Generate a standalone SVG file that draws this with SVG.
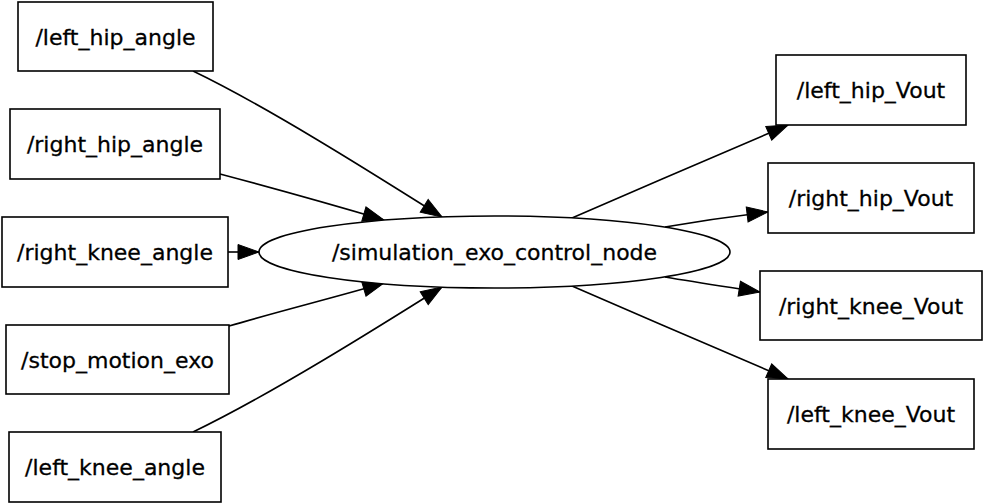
<svg xmlns="http://www.w3.org/2000/svg" width="983" height="504" viewBox="0 0 983 504">
<style>
.n rect, .n ellipse { fill: #fff; stroke: #000; stroke-width: 1.6; }
.n text { font-family: "DejaVu Sans", sans-serif; font-size: 22px; text-anchor: middle; fill: #000; stroke: #000; stroke-width: 0.3; }
#edges path { fill: none; stroke: #000; stroke-width: 1.6; marker-end: url(#ah); }
</style>
<defs>
<marker id="ah" markerUnits="userSpaceOnUse" markerWidth="24" markerHeight="18" refX="21" refY="7.5" orient="auto" overflow="visible">
<path d="M0,0 L21,7.5 L0,15 z" fill="#000" stroke="#000" stroke-width="1"/>
</marker>
</defs>
<rect width="983" height="504" fill="#fff"/>
<g id="edges">
<path d="M193,71 C270,108 380,178 442,217"/>
<path d="M220,174 C280,190 340,207 384,220"/>
<path d="M228,252 L259,252"/>
<path d="M229,326 C280,311 340,296 384,283"/>
<path d="M193,432 C270,395 380,326 442,287"/>
<path d="M572,218 C640,188 730,150 788,125"/>
<path d="M665,227 C700,221 735,216 768,212"/>
<path d="M665,277 C700,283 735,288 760,292"/>
<path d="M572,286 C640,316 730,354 788,379"/>
</g>
<g id="left_hip_angle" class="n"><rect x="18" y="2" width="195" height="69"/><text x="115.5" y="44.5">/left_hip_angle</text></g>
<g id="right_hip_angle" class="n"><rect x="10" y="109" width="210" height="70"/><text x="115" y="152">/right_hip_angle</text></g>
<g id="right_knee_angle" class="n"><rect x="2" y="217" width="226" height="70"/><text x="115" y="260">/right_knee_angle</text></g>
<g id="stop_motion_exo" class="n"><rect x="6" y="325" width="223" height="69"/><text x="117.5" y="368">/stop_motion_exo</text></g>
<g id="left_knee_angle" class="n"><rect x="9" y="432" width="212" height="70"/><text x="115" y="475">/left_knee_angle</text></g>
<g id="simulation_exo_control_node" class="n"><ellipse cx="494.5" cy="252" rx="235.5" ry="36"/><text x="494.5" y="260">/simulation_exo_control_node</text></g>
<g id="left_hip_Vout" class="n"><rect x="776" y="55" width="190" height="70"/><text x="871" y="98">/left_hip_Vout</text></g>
<g id="right_hip_Vout" class="n"><rect x="768" y="163" width="206" height="70"/><text x="871" y="206">/right_hip_Vout</text></g>
<g id="right_knee_Vout" class="n"><rect x="760" y="271" width="222" height="69"/><text x="871" y="314">/right_knee_Vout</text></g>
<g id="left_knee_Vout" class="n"><rect x="768" y="379" width="206" height="70"/><text x="871" y="422">/left_knee_Vout</text></g>
</svg>
